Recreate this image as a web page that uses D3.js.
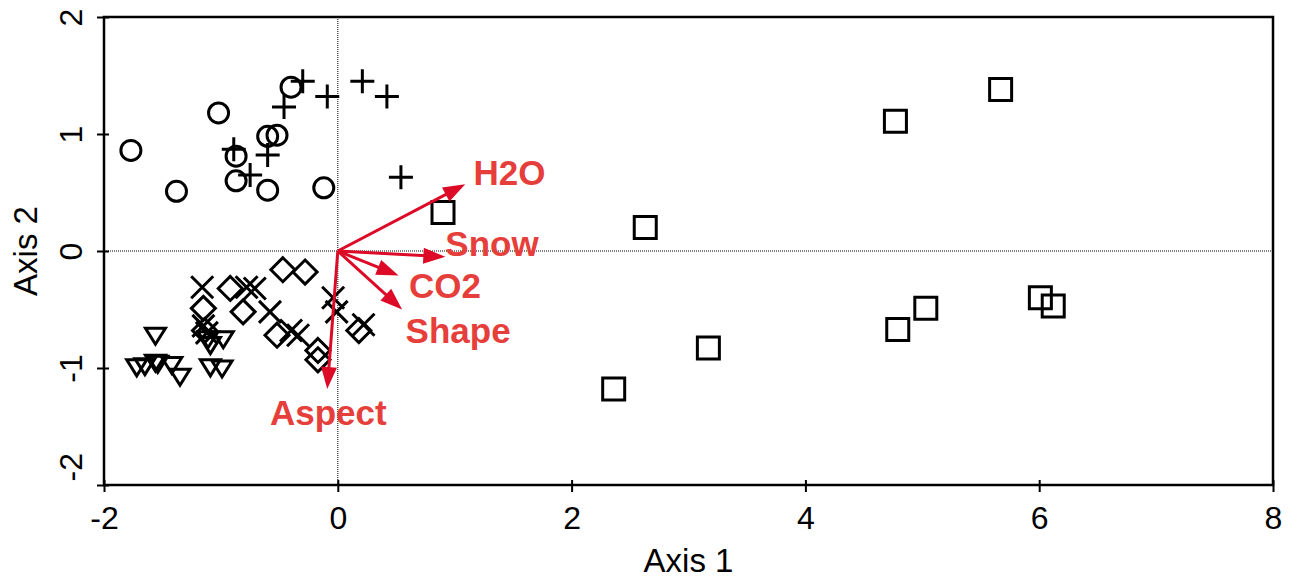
<!DOCTYPE html>
<html lang="en">
<head>
<meta charset="UTF-8">
<title>Ordination biplot</title>
<script src="https://cdn.jsdelivr.net/npm/d3@7"></script>
<style>
    body { margin: 0; background: #fff; font-family: "Liberation Sans", Arial, sans-serif; }
    svg text { font-family: "Liberation Sans", Arial, sans-serif; }
</style>
</head>
<body>
<div id="chart"></div>
<script>
// sample scores per group, [axis1, axis2]
const circles = [[-1.77, 0.86], [-1.02, 1.18], [-1.38, 0.51], [-0.40, 1.40], [-0.60, 0.98],
    [-0.52, 0.99], [-0.87, 0.81], [-0.87, 0.60], [-0.60, 0.52], [-0.12, 0.54]];
const pluses = [[-0.30, 1.45], [-0.09, 1.32], [0.21, 1.45], [0.42, 1.32], [-0.46, 1.23],
    [-0.89, 0.87], [-0.60, 0.82], [-0.75, 0.65], [0.54, 0.63]];
const squares = [[0.90, 0.33], [2.63, 0.20], [4.77, 1.11], [5.67, 1.38], [2.36, -1.18],
    [3.17, -0.83], [4.79, -0.67], [5.03, -0.49], [6.01, -0.40], [6.12, -0.47]];
const crosses = [[-1.16, -0.31], [-0.78, -0.31], [-0.71, -0.32], [-1.15, -0.64], [-1.12, -0.70],
    [-0.58, -0.52], [-0.40, -0.68], [-0.34, -0.72], [-0.04, -0.40], [-0.01, -0.52], [0.22, -0.63]];
const diamonds = [[-1.15, -0.49], [-1.14, -0.68], [-0.92, -0.32], [-0.81, -0.52], [-0.47, -0.16],
    [-0.28, -0.18], [-0.52, -0.72], [-0.17, -0.85], [-0.17, -0.93], [0.18, -0.68]];
const triangles = [[-1.56, -0.72], [-1.11, -0.75], [-1.09, -0.80], [-0.98, -0.75], [-1.72, -0.99],
    [-1.65, -0.98], [-1.56, -0.95], [-1.54, -0.96], [-1.42, -0.97], [-1.35, -1.07],
    [-1.09, -0.99], [-0.99, -1.00]];

// environmental vectors
const vecNames = ["H2O", "Snow", "CO2", "Shape", "Aspect"];
const vecTips = [[1.09, 0.57], [0.92, -0.05], [0.52, -0.21], [0.55, -0.50], [-0.09, -1.18]];
const vecLabelAt = [[1.16, 0.56], [0.92, -0.04], [0.61, -0.40], [0.58, -0.79], [-0.58, -1.49]];

const xTicks = [-2, 0, 2, 4, 6, 8];
const yTicks = [-2, -1, 0, 1, 2];

const W = 1298, H = 579;
const m = { left: 104, right: 1273, top: 17, bottom: 485 };

const svg = d3.select("#chart").append("svg")
    .attr("width", W).attr("height", H);

const x = d3.scaleLinear().domain([-2, 8]).range([m.left, m.right]);
const y = d3.scaleLinear().domain([-2, 2]).range([m.bottom, m.top]);

// dotted zero lines
svg.append("line")
    .attr("x1", x(0)).attr("x2", x(0)).attr("y1", m.top).attr("y2", m.bottom)
    .attr("stroke", "#000").attr("stroke-width", 1).attr("stroke-dasharray", "1,1");
svg.append("line")
    .attr("x1", m.left).attr("x2", m.right).attr("y1", y(0)).attr("y2", y(0))
    .attr("stroke", "#000").attr("stroke-width", 1).attr("stroke-dasharray", "1,1");

// frame
svg.append("rect")
    .attr("x", m.left).attr("y", m.top)
    .attr("width", m.right - m.left).attr("height", m.bottom - m.top)
    .attr("fill", "none").attr("stroke", "#000").attr("stroke-width", 2.5);

const fmt = d => String(d); // plain hyphen, as in the original

// x axis
const xAxis = svg.append("g")
    .attr("transform", `translate(0,${m.bottom})`)
    .call(d3.axisBottom(x).tickValues(xTicks).tickSize(7).tickPadding(14).tickFormat(fmt));
xAxis.select(".domain").remove();
xAxis.selectAll(".tick line").attr("y1", -5).attr("stroke-width", 2);
xAxis.selectAll(".tick text").attr("font-size", 32).attr("fill", "#000");

// y axis, labels rotated
const yAxis = svg.append("g")
    .attr("transform", `translate(${m.left},0)`)
    .call(d3.axisLeft(y).tickValues(yTicks).tickSize(7).tickFormat(fmt));
yAxis.select(".domain").remove();
yAxis.selectAll(".tick line").attr("x1", 5).attr("stroke-width", 2);
yAxis.selectAll(".tick text")
    .attr("font-size", 32).attr("fill", "#000")
    .attr("x", null).attr("dy", null)
    .attr("text-anchor", d => d === -2 ? "start" : "middle")
    .attr("transform", d => `translate(-22,${d === -2 ? -4 : 0}) rotate(-90)`);

// axis titles
svg.append("text")
    .attr("x", (m.left + m.right) / 2).attr("y", 572)
    .attr("text-anchor", "middle").attr("font-size", 33)
    .text("Axis 1");
svg.append("text")
    .attr("transform", `translate(37,${(m.top + m.bottom) / 2}) rotate(-90)`)
    .attr("text-anchor", "middle").attr("font-size", 33)
    .text("Axis 2");

// marker shapes
const symbols = [
    { data: circles, d: d3.arc()({ innerRadius: 0, outerRadius: 10, startAngle: 0, endAngle: 2 * Math.PI }) },
    { data: pluses, d: "M-12,0H12M0,-12V12" },
    { data: squares, d: "M-11,-11H11V11H-11Z" },
    { data: crosses, d: "M-11,-11L11,11M-11,11L11,-11" },
    { data: diamonds, d: "M0,-12L12,0L0,12L-12,0Z" },
    { data: triangles, d: "M-10,-7H10L0,9Z" }
];

const pts = svg.append("g");
symbols.forEach(s => {
    pts.selectAll(null)
        .data(s.data)
        .enter()
        .append("path")
        .attr("d", s.d)
        .attr("transform", p => `translate(${x(p[0])},${y(p[1])})`)
        .attr("fill", "none")
        .attr("stroke", "#000")
        .attr("stroke-width", 3);
});

// vectors
const arrowCol = "#dc0a26";
const textCol = "#e63e3a";
const vecs = svg.append("g");
vecTips.forEach((t, i) => {
    const x0 = x(0), y0 = y(0), x1 = x(t[0]), y1 = y(t[1]);
    const ang = Math.atan2(y1 - y0, x1 - x0);
    const hl = 22, hw = 8;
    const bx = x1 - hl * Math.cos(ang), by = y1 - hl * Math.sin(ang);
    vecs.append("line")
        .attr("x1", x0).attr("y1", y0).attr("x2", bx + 3 * Math.cos(ang)).attr("y2", by + 3 * Math.sin(ang))
        .attr("stroke", arrowCol).attr("stroke-width", 3);
    const px = -Math.sin(ang), py = Math.cos(ang);
    vecs.append("path")
        .attr("d", `M${x1},${y1}L${bx + hw * px},${by + hw * py}L${bx - hw * px},${by - hw * py}Z`)
        .attr("fill", arrowCol);
    vecs.append("text")
        .attr("x", x(vecLabelAt[i][0])).attr("y", y(vecLabelAt[i][1]))
        .attr("font-size", 35).attr("font-weight", "bold")
        .attr("fill", textCol)
        .text(vecNames[i]);
});
</script>
</body>
</html>
